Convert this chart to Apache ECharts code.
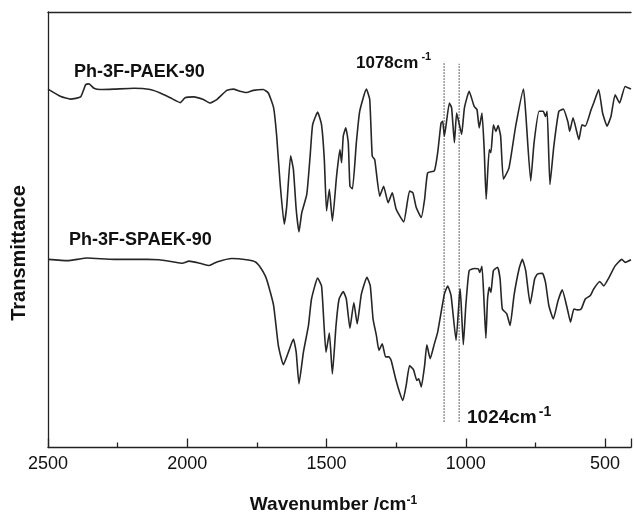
<!DOCTYPE html>
<html>
<head>
<meta charset="utf-8">
<script src="https://cdn.jsdelivr.net/npm/echarts@6/dist/echarts.min.js"></script>
<style>
  html, body { margin: 0; padding: 0; background: #fff; }
  #chart { width: 634px; height: 519px; }
</style>
</head>
<body>
<div id="chart"></div>
<script>
// 光譜資料 (transmittance in arbitrary units)
const wnPAEK = [2500, 2454, 2419, 2383, 2365, 2353, 2335, 2311, 2263, 2192, 2133, 2097, 2061, 2025, 2008, 1977, 1942, 1918, 1894, 1858, 1835, 1811, 1787, 1763, 1727, 1709, 1690, 1679, 1667, 1652, 1643, 1629, 1619, 1609, 1599, 1589, 1571, 1559, 1550, 1532, 1518, 1508, 1500, 1490, 1479, 1464, 1452, 1446, 1440, 1431, 1422, 1416, 1407, 1393, 1381, 1357, 1345, 1336, 1327, 1309, 1295, 1279, 1264, 1250, 1223, 1202, 1190, 1178, 1160, 1148, 1137, 1113, 1101, 1089, 1083, 1077, 1059, 1051, 1041, 1033, 1023, 1015, 1005, 988, 970, 960, 952, 942, 934, 927, 916, 910, 901, 892, 884, 875, 865, 845, 821, 793, 785, 767, 755, 737, 722, 714, 708, 698, 684, 666, 650, 634, 627, 615, 594, 583, 571, 550, 541, 523, 509, 493, 479, 464, 448, 428, 407];
const tPAEK = [82.3, 80.6, 80.0, 80.5, 83.3, 83.5, 82.5, 82.2, 82.3, 82.5, 82.2, 81.4, 80.3, 79.2, 80.3, 80.5, 79.9, 79.1, 79.9, 82.0, 82.3, 81.8, 81.5, 82.0, 82.2, 81.4, 78.0, 71.5, 60.9, 51.3, 55.4, 67.0, 63.8, 54.7, 49.5, 53.9, 58.1, 66.9, 74.1, 77.0, 74.1, 66.1, 54.3, 59.3, 52.0, 62.3, 68.4, 65.4, 71.5, 73.4, 70.0, 60.0, 59.4, 70.0, 77.2, 82.3, 79.9, 66.9, 66.1, 57.7, 60.0, 56.2, 58.5, 54.7, 51.8, 58.9, 58.5, 55.1, 52.8, 57.0, 63.1, 63.5, 67.7, 74.5, 74.9, 71.5, 79.1, 78.0, 70.0, 76.8, 74.1, 71.9, 78.0, 81.8, 78.3, 77.6, 73.4, 76.8, 68.4, 57.0, 68.4, 67.7, 74.1, 72.6, 73.9, 71.5, 61.6, 64.2, 73.8, 82.3, 76.8, 61.2, 70.0, 77.2, 77.2, 76.0, 77.2, 60.4, 69.2, 77.2, 77.7, 74.9, 72.6, 75.7, 70.7, 74.1, 73.8, 77.6, 79.1, 82.2, 76.8, 73.8, 76.0, 81.0, 79.1, 82.9, 82.3];

const wnSPAEK = [2500, 2430, 2359, 2263, 2144, 2101, 2049, 2018, 1994, 1954, 1921, 1894, 1840, 1787, 1755, 1738, 1720, 1708, 1690, 1673, 1655, 1637, 1619, 1609, 1599, 1583, 1565, 1554, 1532, 1518, 1509, 1502, 1490, 1479, 1466, 1455, 1440, 1429, 1416, 1402, 1390, 1375, 1355, 1343, 1333, 1321, 1312, 1300, 1288, 1276, 1268, 1252, 1238, 1226, 1214, 1202, 1188, 1176, 1169, 1160, 1148, 1140, 1128, 1113, 1101, 1077, 1065, 1053, 1035, 1023, 1020, 1015, 1009, 1000, 988, 970, 955, 950, 942, 934, 928, 922, 916, 910, 901, 886, 877, 869, 853, 841, 827, 809, 797, 785, 769, 753, 743, 725, 714, 702, 686, 669, 654, 634, 624, 612, 600, 586, 571, 553, 541, 519, 505, 487, 464, 440, 428, 407];
const tSPAEK = [43.2, 42.9, 43.5, 43.2, 43.2, 43.1, 42.6, 42.3, 42.8, 42.3, 41.8, 42.6, 43.4, 43.1, 42.6, 41.4, 39.4, 37.1, 32.6, 23.4, 19.0, 21.9, 24.9, 21.9, 14.6, 21.9, 28.0, 34.1, 38.9, 37.1, 28.0, 21.9, 26.3, 16.9, 28.0, 34.1, 35.8, 34.1, 27.4, 33.3, 28.4, 35.2, 39.1, 37.1, 29.5, 25.7, 22.3, 23.8, 20.8, 20.8, 20.0, 15.8, 12.7, 10.8, 14.3, 18.8, 17.9, 15.4, 15.8, 13.9, 18.8, 23.6, 20.4, 23.8, 26.5, 35.2, 37.1, 34.9, 24.6, 34.9, 36.4, 30.7, 23.6, 32.6, 40.6, 41.1, 41.0, 40.2, 41.6, 32.6, 25.1, 34.1, 36.8, 35.6, 40.6, 41.4, 38.7, 31.8, 30.7, 28.0, 34.9, 41.0, 43.2, 40.6, 33.0, 38.7, 39.8, 40.0, 37.9, 32.6, 29.5, 33.7, 36.2, 31.4, 28.8, 31.8, 31.6, 31.8, 34.1, 34.9, 36.4, 38.1, 37.1, 38.9, 41.7, 43.2, 42.5, 43.1];

// 標記線 (1078 / 1024 cm-1)
const markWn = [1078, 1024];
const markTop = [88.6, 88.1];
const markBottom = [5.9, 5.9];

const font = "'Liberation Sans', Arial, sans-serif";

function zip(xs, ys) {
  return xs.map((x, i) => [x, ys[i]]);
}

const chart = echarts.init(document.getElementById("chart"));

const spectrumStyle = {
  type: "line",
  showSymbol: false,
  smooth: 0.15,
  lineStyle: { color: "#262626", width: 1.6 },
  silent: true,
  z: 3
};

const series = [
  Object.assign({ name: "Ph-3F-PAEK-90", data: zip(wnPAEK, tPAEK) }, spectrumStyle),
  Object.assign({ name: "Ph-3F-SPAEK-90", data: zip(wnSPAEK, tSPAEK) }, spectrumStyle)
];

markWn.forEach((w, i) => {
  series.push({
    type: "line",
    showSymbol: false,
    silent: true,
    data: [[w, markBottom[i]], [w, markTop[i]]],
    lineStyle: { color: "#333", width: 1, type: [1.5, 1.5] },
    z: 2
  });
});

const option = {
  animation: false,
  grid: { left: 48, right: 0, top: 12, bottom: 70 },
  xAxis: [
    {
      type: "value",
      inverse: true,
      min: 407,
      max: 2500,
      splitNumber: 5,
      name: "Wavenumber /cm{sup|-1}",
      nameLocation: "middle",
      nameGap: 47,
      nameTextStyle: {
        fontFamily: font,
        fontSize: 19,
        fontWeight: "bold",
        color: "#111",
        padding: [0, 12, 0, 0],
        rich: {
          sup: { fontFamily: font, fontSize: 12, fontWeight: "bold", color: "#111", verticalAlign: "top", padding: [0, 0, 8, 0] }
        }
      },
      axisLine: { lineStyle: { color: "#222", width: 1.3 } },
      axisTick: { inside: true, length: 9, lineStyle: { color: "#222", width: 1.3 } },
      minorTick: { show: true, splitNumber: 2, length: 5, lineStyle: { color: "#222", width: 1.3 } },
      axisLabel: {
        margin: 8,
        fontFamily: font,
        fontSize: 18,
        color: "#111",
        formatter: (v) => (v % 500 === 0 ? String(v) : "")
      },
      splitLine: { show: false }
    },
    {
      type: "value",
      position: "top",
      inverse: true,
      min: 407,
      max: 2500,
      axisLine: { show: true, lineStyle: { color: "#222", width: 1.3 } },
      axisTick: { show: false },
      axisLabel: { show: false },
      splitLine: { show: false }
    }
  ],
  yAxis: {
    type: "value",
    min: 0,
    max: 100,
    axisLine: { show: true, lineStyle: { color: "#222", width: 1.3 } },
    axisTick: { show: false },
    axisLabel: { show: false },
    splitLine: { show: false }
  },
  graphic: [
    {
      type: "text",
      x: 19,
      y: 253,
      rotation: Math.PI / 2,
      style: {
        text: "Transmittance",
        fontFamily: font,
        fontSize: 20,
        fontWeight: "bold",
        fill: "#111",
        align: "center",
        verticalAlign: "middle"
      }
    },
    {
      type: "text",
      x: 74,
      y: 72,
      style: { text: "Ph-3F-PAEK-90", fontFamily: font, fontSize: 18, fontWeight: "bold", fill: "#111", verticalAlign: "middle" }
    },
    {
      type: "text",
      x: 69,
      y: 240,
      style: { text: "Ph-3F-SPAEK-90", fontFamily: font, fontSize: 18, fontWeight: "bold", fill: "#111", verticalAlign: "middle" }
    },
    {
      type: "text",
      x: 356,
      y: 63,
      style: {
        text: "1078cm{sup|-1}",
        fontFamily: font,
        fontSize: 17,
        fontWeight: "bold",
        fill: "#111",
        verticalAlign: "middle",
        rich: {
          sup: { fontFamily: font, fontSize: 11, fontWeight: "bold", fill: "#111", padding: [0, 0, 12, 3] }
        }
      }
    },
    {
      type: "text",
      x: 467,
      y: 418,
      style: {
        text: "1024cm{sup|-1}",
        fontFamily: font,
        fontSize: 19,
        fontWeight: "bold",
        fill: "#111",
        verticalAlign: "middle",
        rich: {
          sup: { fontFamily: font, fontSize: 14, fontWeight: "bold", fill: "#111", padding: [0, 0, 12, 2] }
        }
      }
    }
  ],
  series: series
};

chart.setOption(option);
</script>
</body>
</html>
